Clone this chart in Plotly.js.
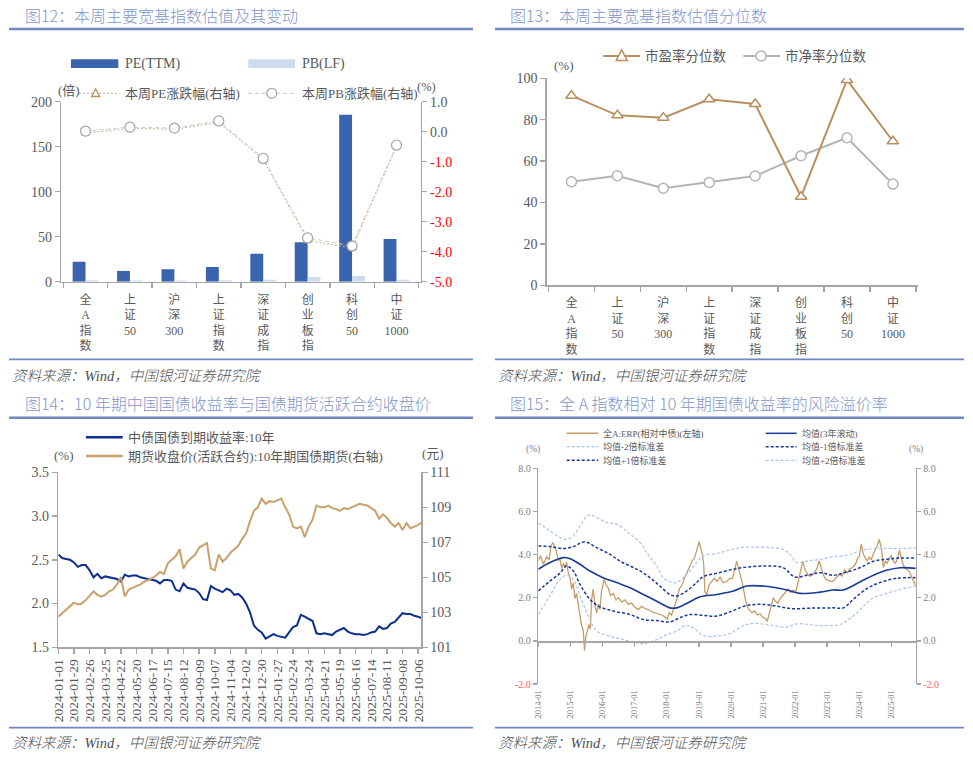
<!DOCTYPE html>
<html><head><meta charset="utf-8">
<script src="https://cdn.plot.ly/plotly-3.0.1.min.js"></script>
<style>html,body{margin:0;padding:0;background:#fff}#chart{width:973px;height:760px}</style>
</head><body><div id="chart"></div>
<script>
// ================= DATA =================
// Fig 12 / 13 : broad-based indices
const indexNames = ['全A指数','上证50','沪深300','上证指数','深证成指','创业板指','科创50','中证1000'];
const peTTM      = [22.2, 11.9, 13.8, 16.3, 31.1, 43.8, 185.5, 47.4];
const pbLF       = [1.6, 1.3, 1.4, 1.5, 2.2, 5.3, 6.4, 2.3];
const peWeekChg  = [-0.05, 0.11, 0.08, 0.31, -0.93, -3.62, -3.88, -0.50];
const pbWeekChg  = [0.02, 0.15, 0.12, 0.36, -0.89, -3.54, -3.81, -0.45];
const pePct      = [91.6, 82.1, 81.0, 89.9, 87.6, 42.8, 99.2, 69.6];
const pbPct      = [50.0, 52.9, 46.9, 49.7, 52.8, 62.6, 71.3, 48.9];
const p12RightTicks = [1, 0, -1, -2, -3, -4, -5];

// Fig 14 : weekly observations starting 2024-01-01
const weekStart = '2024-01-01';
const cgb10y = [2.56,2.52,2.51,2.50,2.47,2.42,2.44,2.44,2.38,2.30,
  2.34,2.29,2.31,2.30,2.29,2.28,2.25,2.33,2.31,2.32,
  2.32,2.30,2.29,2.28,2.27,2.26,2.23,2.27,2.27,2.26,
  2.16,2.14,2.23,2.18,2.17,2.16,2.12,2.05,2.04,2.20,
  2.17,2.15,2.13,2.17,2.15,2.10,2.11,2.07,2.00,1.90,
  1.75,1.70,1.67,1.60,1.63,1.65,1.63,1.62,1.61,1.67,
  1.73,1.75,1.87,1.85,1.82,1.80,1.66,1.65,1.66,1.65,
  1.64,1.68,1.70,1.72,1.68,1.66,1.65,1.65,1.64,1.65,
  1.67,1.68,1.74,1.71,1.72,1.77,1.79,1.84,1.89,1.88,
  1.88,1.86,1.85,1.83];
const t10Futures = [102.75,102.95,103.1,103.3,103.55,103.45,103.5,103.7,103.95,104.2,
  104.0,103.9,104.0,104.2,104.3,104.6,105.0,103.9,104.3,104.4,
  104.5,104.6,104.75,104.85,104.95,105.1,105.3,105.2,105.8,106.0,
  106.2,106.6,105.5,105.9,106.1,106.3,106.7,106.85,106.95,105.5,
  105.4,106.3,105.9,106.1,106.4,106.6,106.8,107.2,107.5,108.2,
  108.8,109.0,109.5,109.2,109.35,109.3,109.4,109.5,109.0,108.6,
  107.9,107.8,107.9,107.3,107.9,108.3,109.1,109.0,109.0,109.1,
  108.95,108.9,108.8,108.95,108.9,109.0,109.1,109.2,109.15,109.1,
  108.95,108.8,108.35,108.6,108.4,108.1,107.9,108.1,107.7,108.1,
  107.8,107.9,108.0,108.15];

// Fig 15 : [year (fractional), value %]
const erpSeries = [[2014.00,3.71],[2014.07,3.95],[2014.16,3.55],[2014.26,3.90],[2014.34,3.75],[2014.39,4.35],[2014.45,4.56],[2014.51,4.40],[2014.57,4.10],[2014.62,3.70],
  [2014.67,3.85],[2014.73,3.35],[2014.78,3.60],[2014.83,3.40],[2014.88,3.65],[2014.93,3.20],[2014.99,2.90],[2015.04,2.40],[2015.09,2.70],[2015.14,1.95],
  [2015.19,2.20],[2015.25,1.60],[2015.30,1.15],[2015.35,0.70],[2015.40,0.50],[2015.44,-0.45],[2015.48,0.20],[2015.53,0.45],[2015.58,0.75],[2015.62,0.55],
  [2015.66,1.90],[2015.71,2.40],[2015.77,1.60],[2015.82,1.30],[2015.87,1.70],[2015.92,1.45],[2015.97,2.30],[2016.05,2.85],[2016.11,2.60],[2016.18,2.45],
  [2016.25,2.10],[2016.34,2.20],[2016.42,1.90],[2016.50,2.00],[2016.60,1.80],[2016.70,1.90],[2016.80,1.70],[2016.91,1.75],[2017.01,1.55],[2017.12,1.45],
  [2017.22,1.60],[2017.32,1.50],[2017.43,1.45],[2017.53,1.35],[2017.63,1.30],[2017.74,1.25],[2017.84,1.20],[2017.95,1.10],[2018.02,1.00],[2018.08,1.30],
  [2018.15,1.20],[2018.23,1.55],[2018.31,1.90],[2018.39,2.40],[2018.48,2.60],[2018.55,2.90],[2018.62,3.15],[2018.70,3.40],[2018.79,3.70],[2018.87,3.85],
  [2018.94,4.20],[2019.01,4.60],[2019.06,4.30],[2019.11,4.00],[2019.15,3.60],[2019.19,2.30],[2019.24,2.10],[2019.32,2.60],[2019.40,2.75],[2019.48,2.90],
  [2019.57,2.75],[2019.66,2.95],[2019.76,2.70],[2019.87,2.75],[2019.97,2.90],[2020.05,2.90],[2020.12,3.30],[2020.18,3.70],[2020.24,3.35],[2020.30,3.00],
  [2020.37,2.60],[2020.43,2.10],[2020.49,1.65],[2020.57,1.45],[2020.66,1.30],[2020.74,1.40],[2020.82,1.20],[2020.91,1.25],[2020.99,1.10],[2021.07,1.05],
  [2021.13,0.90],[2021.20,1.30],[2021.26,1.60],[2021.32,2.00],[2021.38,1.85],[2021.45,1.75],[2021.53,1.95],[2021.61,2.10],[2021.70,2.25],[2021.78,2.40],
  [2021.86,2.25],[2021.94,2.35],[2022.03,2.30],[2022.10,2.80],[2022.17,3.20],[2022.24,3.70],[2022.30,3.35],[2022.38,3.10],[2022.46,3.00],[2022.55,3.05],
  [2022.62,3.20],[2022.69,3.40],[2022.75,3.70],[2022.82,3.30],[2022.88,3.05],[2022.96,2.85],[2023.05,2.80],[2023.13,2.75],[2023.21,2.80],[2023.29,2.95],
  [2023.38,3.10],[2023.46,3.00],[2023.54,3.30],[2023.63,3.15],[2023.71,3.35],[2023.79,3.40],[2023.88,3.55],[2023.94,3.80],[2024.00,3.90],[2024.06,4.50],
  [2024.13,4.00],[2024.19,3.85],[2024.25,3.70],[2024.31,3.90],[2024.37,3.75],[2024.44,4.05],[2024.50,4.20],[2024.56,4.40],[2024.62,4.70],[2024.69,4.30],
  [2024.75,3.40],[2024.81,3.70],[2024.87,3.60],[2024.94,3.85],[2025.00,3.95],[2025.06,3.70],[2025.12,3.60],[2025.18,3.75],[2025.25,4.20],[2025.31,3.80],
  [2025.37,3.50],[2025.43,3.35],[2025.50,3.30],[2025.56,3.20],[2025.62,3.00],[2025.68,2.75],[2025.74,2.60],[2025.76,2.55]];
const erpMean = [[2014.00,3.32],[2014.36,3.63],[2014.78,3.86],[2014.99,3.81],[2015.30,3.55],[2015.61,3.24],[2016.02,2.93],[2016.44,2.70],[2016.86,2.46],[2017.27,2.15],
  [2017.69,1.84],[2018.10,1.53],[2018.31,1.53],[2018.62,1.73],[2019.04,2.04],[2019.56,2.15],[2020.08,2.31],[2020.49,2.54],[2021.22,2.51],[2021.74,2.36],
  [2022.15,2.20],[2022.78,2.26],[2023.19,2.36],[2023.50,2.36],[2024.02,2.73],[2024.44,3.04],[2024.85,3.27],[2025.27,3.39],[2025.76,3.36]];
const erpUp1 = [[2014.00,4.40],[2014.36,4.37],[2014.78,4.28],[2015.09,4.37],[2015.45,4.59],[2015.82,4.32],[2016.23,4.01],[2016.54,3.70],[2016.86,3.47],[2017.17,3.24],
  [2017.48,2.93],[2017.79,2.54],[2018.10,2.15],[2018.31,2.08],[2018.62,2.31],[2018.93,2.70],[2019.14,2.98],[2019.56,3.13],[2020.08,3.32],[2020.49,3.42],
  [2021.11,3.47],[2021.63,3.39],[2021.99,2.96],[2022.36,3.04],[2022.78,3.16],[2023.19,3.04],[2023.61,3.19],[2024.02,3.39],[2024.44,3.69],[2024.85,3.78],
  [2025.27,3.84],[2025.76,3.84]];
const erpLow1 = [[2014.00,2.31],[2014.36,2.77],[2014.67,3.13],[2014.88,3.47],[2015.09,3.24],[2015.30,2.62],[2015.61,1.92],[2015.92,1.58],[2016.34,1.38],[2016.86,1.22],
  [2017.27,0.99],[2017.69,0.94],[2018.10,0.88],[2018.41,1.07],[2018.72,1.22],[2019.14,1.18],[2019.56,1.15],[2020.08,1.41],[2020.49,1.64],[2021.01,1.69],
  [2021.53,1.58],[2021.94,1.49],[2022.57,1.52],[2023.19,1.53],[2023.50,1.53],[2023.81,1.92],[2024.23,2.42],[2024.64,2.70],[2025.16,2.90],[2025.76,2.93]];
const erpUp2 = [[2014.00,5.46],[2014.36,5.10],[2014.83,4.71],[2015.09,4.86],[2015.30,5.33],[2015.56,5.83],[2015.82,5.72],[2016.13,5.49],[2016.44,5.41],[2016.86,4.94],
  [2017.17,4.56],[2017.37,4.09],[2017.69,3.47],[2017.89,2.93],[2018.10,2.74],[2018.31,2.70],[2018.62,3.08],[2018.93,3.63],[2019.14,3.94],[2019.56,4.05],
  [2020.28,4.32],[2020.70,4.35],[2021.22,4.32],[2021.63,4.24],[2021.84,4.01],[2022.05,3.63],[2022.36,3.70],[2022.78,3.78],[2023.19,3.90],[2023.61,3.97],
  [2024.02,4.17],[2024.44,4.28],[2025.27,4.28],[2025.76,4.32]];
const erpLow2 = [[2014.00,1.22],[2014.36,2.08],[2014.67,2.85],[2014.88,3.04],[2015.09,2.85],[2015.30,2.08],[2015.61,0.99],[2015.82,0.45],[2016.23,0.22],[2016.65,0.06],
  [2017.06,-0.09],[2017.27,-0.13],[2017.69,0.06],[2018.00,0.29],[2018.31,0.45],[2018.57,0.71],[2018.83,0.60],[2019.14,0.25],[2019.56,0.22],[2019.97,0.34],
  [2020.35,0.68],[2020.70,0.81],[2021.22,0.73],[2021.74,0.64],[2022.05,0.79],[2022.78,0.71],[2023.40,0.76],[2023.81,1.15],[2024.13,1.61],[2024.44,2.00],
  [2024.85,2.20],[2025.27,2.39],[2025.76,2.54]];
const erpYears = [2014,2015,2016,2017,2018,2019,2020,2021,2022,2023,2024,2025];
const erpTicks = [-2, 0, 2, 4, 6, 8];

// ================= STYLE / HELPERS =================
const W = 973, H = 760;
const PX = v => v / W, PY = v => 1 - v / H;
const SERIF = '"Liberation Serif", "Noto Sans CJK SC", serif';
const SANS = '"Noto Sans CJK SC", "Noto Sans", sans-serif';
const AXIS_C = '#a6a6a6', TICK_C = '#595959', TITLE_C = '#7f96c9', RULE_C = '#6f88c0';
const PE_BLUE = '#3a64ad', PB_LIGHT = '#cfdcf0', TAN = '#b98f5e', GRAY = '#b4b4b4';
const NAVY = '#0c2f8e', FUT_TAN = '#c8a16c';
const ERP_TAN = '#c49d69', MEAN_BLUE = '#183b98', SD2_BLUE = '#a8c2ee';

const stackLabel = s => s.match(/[A-Za-z0-9]+|./g).join('<br>');
const xs = arr => arr.map(p => p[0]);
const ys = arr => arr.map(p => p[1]);
const weekDates = n => Array.from({length: n}, (_, i) =>
  new Date(Date.parse(weekStart + 'T00:00:00Z') + i * 7 * 864e5).toISOString().slice(0, 10));
const redNeg = (v, red) => v < 0 ? `<span style="color:${red}">${v.toFixed(1)}</span>` : v.toFixed(1);

const shapes = [], annotations = [];
function hline(x0, x1, y, color, width, dash) {
  shapes.push({type: 'line', xref: 'paper', yref: 'paper', x0: PX(x0), x1: PX(x1), y0: PY(y), y1: PY(y),
    line: {color, width, dash: dash || 'solid'}});
}
function rect(x0, x1, y0, y1, color) {
  shapes.push({type: 'rect', xref: 'paper', yref: 'paper', x0: PX(x0), x1: PX(x1), y0: PY(y1), y1: PY(y0),
    line: {width: 0}, fillcolor: color});
}
function circ(cx, cy, r, color, lw) {
  shapes.push({type: 'circle', xref: 'paper', yref: 'paper', x0: PX(cx - r), x1: PX(cx + r), y0: PY(cy + r), y1: PY(cy - r),
    line: {color, width: lw}, fillcolor: '#fff'});
}
function tri(cx, cy, s, color, lw) {
  const p = [[cx, cy - s * 0.55], [cx - s / 2, cy + s * 0.4], [cx + s / 2, cy + s * 0.4]];
  shapes.push({type: 'path', xref: 'paper', yref: 'paper',
    path: 'M' + p.map(q => PX(q[0]) + ',' + PY(q[1])).join(' L') + ' Z',
    line: {color, width: lw}, fillcolor: '#fff'});
}
function txt(x, y, text, size, color, family, weight) {
  annotations.push({xref: 'paper', yref: 'paper', x: PX(x), y: PY(y), text, showarrow: false,
    xanchor: 'left', yanchor: 'middle',
    font: {size, color: color || TICK_C, family: family || SERIF, weight: weight || 400}});
}

// ---- titles, rules, sources
const SRC = '<i>资料来源：Wind，中国银河证券研究院</i>';
txt(22.5, 15.5, '图12：本周主要宽基指数估值及其变动', 16, TITLE_C, SANS, 300);
txt(508, 15.5, '图13：本周主要宽基指数估值分位数', 16, TITLE_C, SANS, 300);
txt(22.5, 403.3, '图14：10 年期中国国债收益率与国债期货活跃合约收盘价', 16, TITLE_C, SANS, 300);
txt(508, 403.3, '图15：全 A 指数相对 10 年期国债收益率的风险溢价率', 16, TITLE_C, SANS, 300);
[[9, 473], [495, 964]].forEach(([a, b]) => {
  hline(a, b, 29, RULE_C, 2.5); hline(a, b, 359.4, RULE_C, 1.8);
  hline(a, b, 417.7, RULE_C, 2.5); hline(a, b, 727.7, RULE_C, 1.8);
});
txt(9.5, 375.5, SRC, 14.5, '#505050', SERIF, 300);
txt(495.5, 375.5, SRC, 14.5, '#505050', SERIF, 300);
txt(9.5, 743.3, SRC, 14.5, '#505050', SERIF, 300);
txt(495.5, 743.3, SRC, 14.5, '#505050', SERIF, 300);

// ---- legend fig12
rect(71, 118.3, 59.3, 68, PE_BLUE); txt(123, 63.7, 'PE(TTM)', 14);
rect(248.3, 295, 59.3, 68, PB_LIGHT); txt(300, 63.7, 'PB(LF)', 14);
txt(55.5, 90.5, '(倍)', 13);
hline(79, 117.3, 93.3, '#c9ae8a', 1, '2px,2px'); tri(95.7, 93.3, 8, TAN, 1.3);
txt(123, 93.3, '本周PE涨跌幅(右轴)', 13);
hline(248, 295, 93.3, '#c8c8c8', 1, '4px,3px'); circ(271.7, 93.3, 5, '#a8a8a8', 1.3);
txt(300, 93.3, '本周PB涨跌幅(右轴)', 13);
txt(414.5, 87.5, '(%)', 12.5);
// ---- legend fig13
hline(603.3, 640, 56, TAN, 2); tri(621.7, 56, 11, TAN, 1.5); txt(643.3, 56, '市盈率分位数', 13.5);
hline(743.3, 780, 56, GRAY, 2); circ(761, 56, 5, GRAY, 1.5); txt(783, 56, '市净率分位数', 13.5);
txt(551.5, 65.7, '(%)', 13);
// ---- legend fig14
hline(86, 122.7, 437.3, NAVY, 2.5); txt(125.7, 437.3, '中债国债到期收益率:10年', 13);
hline(86, 122.7, 456, FUT_TAN, 2.5); txt(125.7, 456, '期货收盘价(活跃合约):10年期国债期货(右轴)', 13);
txt(52, 455.5, '(%)', 13); txt(419.5, 453.5, '(元)', 13);
// ---- legend fig15
hline(566.7, 598.3, 433.3, ERP_TAN, 1.5); txt(601.3, 433.3, '全A:ERP(相对中债)(左轴)', 9);
hline(765.7, 796.7, 433.3, MEAN_BLUE, 1.5); txt(799.7, 433.3, '均值(3年滚动)', 9);
hline(566.7, 598.3, 446.7, SD2_BLUE, 1.2, '3px,2px'); txt(601.3, 446.7, '均值-2倍标准差', 9);
hline(765.7, 796.7, 446.7, MEAN_BLUE, 1.5, '3px,2px'); txt(799.7, 446.7, '均值-1倍标准差', 9);
hline(566.7, 598.3, 460.3, MEAN_BLUE, 1.5, '3px,2px'); txt(601.3, 460.3, '均值+1倍标准差', 9);
hline(765.7, 796.7, 460.3, SD2_BLUE, 1.2, '3px,2px'); txt(799.7, 460.3, '均值+2倍标准差', 9);
txt(524, 450, '(%)', 9.5, '#7f7f7f'); txt(906.5, 450, '(%)', 9.5, '#7f7f7f');

// ================= TRACES =================
const dates14 = weekDates(cgb10y.length);
const traces = [
  {type: 'bar', x: indexNames, y: peTTM, xaxis: 'x', yaxis: 'y', marker: {color: PE_BLUE}},
  {type: 'bar', x: indexNames, y: pbLF, xaxis: 'x', yaxis: 'y', marker: {color: PB_LIGHT}},
  {type: 'scatter', mode: 'lines+markers', x: indexNames, y: peWeekChg, xaxis: 'x', yaxis: 'y2',
    line: {color: '#c9ae8a', width: 1, dash: '2px,2px'},
    marker: {symbol: 'triangle-up', size: 7, color: '#fff', line: {color: TAN, width: 1.3}}},
  {type: 'scatter', mode: 'lines+markers', x: indexNames, y: pbWeekChg, xaxis: 'x', yaxis: 'y2',
    line: {color: '#c8c8c8', width: 1, dash: '4px,3px'},
    marker: {symbol: 'circle', size: 10, color: '#fff', line: {color: '#a8a8a8', width: 1.3}}},
  {type: 'scatter', mode: 'lines+markers', x: indexNames, y: pbPct, xaxis: 'x2', yaxis: 'y3',
    line: {color: GRAY, width: 2},
    marker: {symbol: 'circle', size: 10, color: '#fff', line: {color: GRAY, width: 1.5}}},
  {type: 'scatter', mode: 'lines+markers', x: indexNames, y: pePct, xaxis: 'x2', yaxis: 'y3',
    line: {color: TAN, width: 2},
    marker: {symbol: 'triangle-up', size: 10, color: '#fff', line: {color: TAN, width: 1.5}}},
  {type: 'scatter', mode: 'lines', x: dates14, y: t10Futures, xaxis: 'x3', yaxis: 'y5', line: {color: FUT_TAN, width: 2}},
  {type: 'scatter', mode: 'lines', x: dates14, y: cgb10y, xaxis: 'x3', yaxis: 'y4', line: {color: NAVY, width: 2}},
  {type: 'scatter', mode: 'lines', x: xs(erpSeries), y: ys(erpSeries), xaxis: 'x4', yaxis: 'y6', line: {color: ERP_TAN, width: 1.3}},
  {type: 'scatter', mode: 'lines', x: xs(erpLow2), y: ys(erpLow2), xaxis: 'x4', yaxis: 'y7', line: {color: SD2_BLUE, width: 1.2, dash: '3px,2px', shape: 'spline'}},
  {type: 'scatter', mode: 'lines', x: xs(erpUp2), y: ys(erpUp2), xaxis: 'x4', yaxis: 'y7', line: {color: SD2_BLUE, width: 1.2, dash: '3px,2px', shape: 'spline'}},
  {type: 'scatter', mode: 'lines', x: xs(erpLow1), y: ys(erpLow1), xaxis: 'x4', yaxis: 'y7', line: {color: MEAN_BLUE, width: 1.5, dash: '3px,2px', shape: 'spline'}},
  {type: 'scatter', mode: 'lines', x: xs(erpUp1), y: ys(erpUp1), xaxis: 'x4', yaxis: 'y7', line: {color: MEAN_BLUE, width: 1.5, dash: '3px,2px', shape: 'spline'}},
  {type: 'scatter', mode: 'lines', x: xs(erpMean), y: ys(erpMean), xaxis: 'x4', yaxis: 'y7', line: {color: MEAN_BLUE, width: 1.6, shape: 'spline'}},
];

// ================= AXES =================
const baseAx = {showline: true, linecolor: AXIS_C, linewidth: 1.5, ticks: 'outside', ticklen: 5,
  tickcolor: AXIS_C, tickwidth: 1.5, showgrid: false, zeroline: false, fixedrange: true,
  tickfont: {family: SERIF, size: 14, color: TICK_C}};
const ax = o => Object.assign({}, baseAx, o);
const catTicks = {type: 'category', tickson: 'boundaries', tickvals: indexNames, ticklabelstandoff: 6,
  ticktext: indexNames.map(stackLabel), tickfont: {family: SERIF, size: 12, color: TICK_C}};

const layout = {
  width: W, height: H, margin: {l: 0, r: 0, t: 0, b: 0}, paper_bgcolor: '#fff', plot_bgcolor: 'rgba(0,0,0,0)',
  showlegend: false, hovermode: false, barmode: 'group', bargap: 0.42, bargroupgap: 0,
  font: {family: SERIF, color: TICK_C},
  xaxis: ax(Object.assign({domain: [PX(61.3), PX(420.7)], anchor: 'y'}, catTicks)),
  yaxis: ax({domain: [PY(281.7), PY(101.7)], anchor: 'x', range: [0, 200], tickvals: [0, 50, 100, 150, 200]}),
  yaxis2: ax({overlaying: 'y', side: 'right', anchor: 'x', range: [-5, 1], tickvals: p12RightTicks,
    ticktext: p12RightTicks.map(v => redNeg(v, '#ff0000'))}),
  xaxis2: ax(Object.assign({domain: [PX(546.7), PX(917.7)], anchor: 'y3'}, catTicks)),
  yaxis3: ax({domain: [PY(285.3), PY(78.3)], anchor: 'x2', range: [0, 100], dtick: 20, tick0: 0}),
  xaxis3: ax({domain: [PX(58.3), PX(421)], anchor: 'y4', type: 'date', range: ['2024-01-01', '2025-10-11'],
    tick0: '2024-01-01', dtick: 28 * 864e5, tickformat: '%Y-%m-%d', tickangle: -90,
    tickfont: {family: SERIF, size: 13.5, color: TICK_C}}),
  yaxis4: ax({domain: [PY(647.3), PY(472.3)], anchor: 'x3', range: [1.5, 3.5], dtick: 0.5, tick0: 1.5, tickformat: '.1f'}),
  yaxis5: ax({overlaying: 'y4', side: 'right', anchor: 'x3', range: [101, 111], dtick: 2, tick0: 101}),
  xaxis4: ax({domain: [PX(538.3), PX(915.7)], anchor: 'free', position: PY(641.3), range: [2014, 2025.757],
    tickvals: erpYears, ticktext: erpYears.map(y => y + '-01'), tickangle: -90, ticklen: 4,
    ticklabelstandoff: 40, tickfont: {family: SERIF, size: 8.5, color: '#6f6f6f'}}),
  yaxis6: ax({domain: [PY(684), PY(468.3)], anchor: 'x4', range: [-2, 8], tickvals: erpTicks, ticklen: 4,
    ticktext: erpTicks.map(v => redNeg(v, '#ff5a5a')), tickfont: {family: SERIF, size: 10, color: '#7f7f7f'}}),
  yaxis7: ax({overlaying: 'y6', side: 'right', anchor: 'x4', range: [-2, 8], tickvals: erpTicks, ticklen: 4,
    ticktext: erpTicks.map(v => redNeg(v, '#ff5a5a')), tickfont: {family: SERIF, size: 10, color: '#7f7f7f'}}),
  shapes, annotations
};

Plotly.newPlot('chart', traces, layout, {displayModeBar: false, staticPlot: true});
</script></body></html>
